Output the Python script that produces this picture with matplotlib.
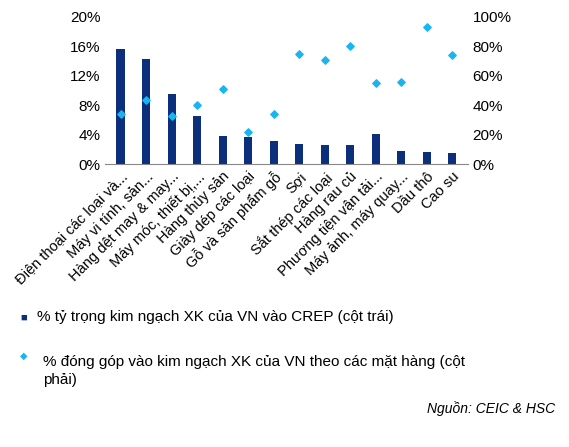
import matplotlib
matplotlib.use("Agg")
import matplotlib.pyplot as plt
from matplotlib.ticker import FuncFormatter

plt.rcParams['font.family'] = ['Liberation Sans', 'DejaVu Sans']

categories = ["Điện thoại các loại và...", "Máy vi tính, sản...", "Hàng dệt may & may...",
              "Máy móc, thiết bị,...", "Hàng thủy sản", "Giày dép các loại",
              "Gỗ và sản phẩm gỗ", "Sợi", "Sắt thép các loại", "Hàng rau củ",
              "Phương tiện vận tải...", "Máy ảnh, máy quay...", "Dầu thô", "Cao su"]
share_crep = [15.7, 14.3, 9.6, 6.6, 3.9, 3.7, 3.2, 2.8, 2.7, 2.7, 4.2, 1.8, 1.7, 1.5]
contrib = [34, 44, 33, 40, 51, 22, 34, 75, 71, 80, 55, 56, 93, 74]

fig = plt.figure(figsize=(5.69, 4.47), dpi=100)
ax = fig.add_axes([0.185, 0.632, 0.637, 0.33])
x = range(len(categories))
ax.bar(x, share_crep, width=0.32, color='#0b2f7a')
ax.set_ylim(0, 20)
ax.set_yticks(range(0, 21, 4))
ax.yaxis.set_major_formatter(FuncFormatter(lambda v, p: f"{v:.0f}%"))
ax2 = ax.twinx()
ax2.scatter(x, contrib, marker='D', s=14, color='#1ab4f0', zorder=3)
ax2.set_ylim(0, 100)
ax2.set_yticks(range(0, 101, 20))
ax2.yaxis.set_major_formatter(FuncFormatter(lambda v, p: f"{v:.0f}%"))
ax.set_xlim(-0.6, len(categories) - 0.4)
ax.set_xticks(list(x))
ax.set_xticklabels(categories, rotation=45, ha='right', rotation_mode='anchor', fontsize=10.5)
for a in (ax, ax2):
    for s in ('top', 'left', 'right'):
        a.spines[s].set_visible(False)
    a.tick_params(axis='y', length=0, labelsize=11)
    a.tick_params(axis='x', length=0)
ax2.spines['bottom'].set_visible(False)
ax.spines['bottom'].set_color('#888888')

fig.text(0.035, 0.29, "■", color='#0b2f7a', fontsize=8, va='center')
fig.text(0.065, 0.29, "% tỷ trọng kim ngạch XK của VN vào CREP (cột trái)", fontsize=11, va='center')
fig.text(0.035, 0.205, "◆", color='#1ab4f0', fontsize=7, va='center')
fig.text(0.075, 0.205, "% đóng góp vào kim ngạch XK của VN theo các mặt hàng (cột\nphải)",
         fontsize=11, va='top', linespacing=1.3, transform=fig.transFigure)
fig.text(0.975, 0.075, "Nguồn: CEIC & HSC", fontsize=10, style='italic', ha='right')
fig.savefig("out.png", dpi=100)
